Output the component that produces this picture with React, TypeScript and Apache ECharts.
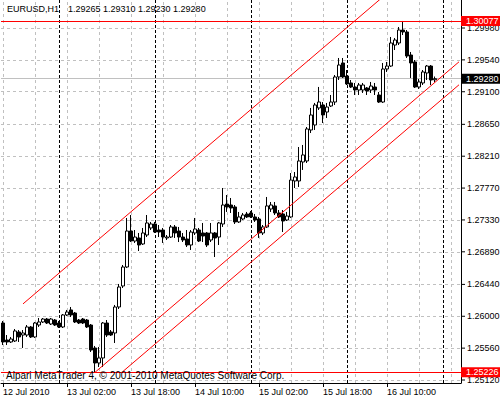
import React, { useEffect, useRef } from "react";
import * as echarts from "echarts";

const symbol = "EURUSD";
const timeframe = "H1";
const startTimeUTC = Date.UTC(2010, 6, 12, 10, 0);
const slotCount = 115;

const open = [
  1.25907, 1.25672, 1.25645, 1.25659, 1.25783, 1.25741, 1.25741, 1.25852, 1.25714, 1.25879,
  1.25921, 1.25962, 1.25893, 1.25948, 1.25907, 1.25852, 1.26018, 1.26087, 1.26045, 1.25948,
  1.25962, 1.25948, 1.25879, 1.25562, 1.25355, 1.25424, 1.25907, 1.25783, 1.25769, 1.26128,
  1.26418, 1.2668, 1.27177, 1.27039, 1.27081, 1.26998, 1.27122, 1.27219, 1.27274, 1.27191,
  1.27191, 1.27081, 1.27094, 1.27233, 1.27177, 1.27094, 1.27067, 1.26984, 1.2715, 1.27191,
  1.2715, 1.2715, 1.27053, 1.2715, 1.27094, 1.27274, 1.2755, 1.27536, 1.27509, 1.27302,
  1.27343, 1.27412, 1.27426, 1.27371, 1.27343, 1.2715, 1.27233, 1.27481, 1.27523, 1.27426,
  1.27412, 1.27329, 1.27371, 1.27868, 1.27868, 1.2813, 1.28144, 1.28572, 1.28641, 1.28876,
  1.28917, 1.2882, 1.28903, 1.28958, 1.29304, 1.29497, 1.29317, 1.29221, 1.29165, 1.29124,
  1.29124, 1.29152, 1.29124, 1.29165, 1.29055, 1.28958, 1.29414, 1.29455, 1.29745, 1.29773,
  1.29952, 1.29925, 1.29607, 1.29511, 1.29165, 1.29221, 1.29359, 1.29455, 1.29265,
];
const high = [
  1.25935, 1.25741, 1.25714, 1.25824, 1.2581, 1.2581, 1.25879, 1.25866, 1.25921, 1.25976,
  1.25976, 1.25976, 1.25976, 1.25962, 1.25935, 1.26031, 1.26087, 1.26128, 1.26059, 1.25962,
  1.25976, 1.25962, 1.25893, 1.2559, 1.25576, 1.25921, 1.25948, 1.2581, 1.26156, 1.26446,
  1.26708, 1.27357, 1.27398, 1.27191, 1.2715, 1.27219, 1.27398, 1.27302, 1.27302, 1.2726,
  1.27219, 1.27122, 1.2726, 1.2726, 1.27233, 1.2715, 1.27191, 1.27191, 1.27357, 1.27219,
  1.27288, 1.27163, 1.27288, 1.27163, 1.27302, 1.27771, 1.27674, 1.27633, 1.27536, 1.2744,
  1.27426, 1.2744, 1.27453, 1.27412, 1.27371, 1.2726, 1.27647, 1.27578, 1.27578, 1.27467,
  1.27467, 1.2744, 1.27978, 1.27992, 1.28337, 1.28365, 1.28613, 1.28876, 1.28945, 1.29166,
  1.28958, 1.28945, 1.29055, 1.29331, 1.29566, 1.29566, 1.294, 1.29262, 1.29221, 1.29221,
  1.29221, 1.29165, 1.29235, 1.29221, 1.29096, 1.29497, 1.29511, 1.29856, 1.29842, 1.29994,
  1.30077, 1.29952, 1.29649, 1.29538, 1.29276, 1.294, 1.29469, 1.29469, 1.2931,
];
const low = [
  1.25603, 1.25603, 1.25631, 1.25645, 1.25645, 1.25562, 1.25714, 1.257, 1.257, 1.25852,
  1.25907, 1.25893, 1.25879, 1.25866, 1.25838, 1.25838, 1.26004, 1.2599, 1.25907, 1.25893,
  1.25893, 1.25838, 1.25507, 1.25226, 1.253, 1.253, 1.25714, 1.25728, 1.25631, 1.261,
  1.2639, 1.26666, 1.27025, 1.27012, 1.26901, 1.26984, 1.27094, 1.27191, 1.2715, 1.27094,
  1.27012, 1.27053, 1.27081, 1.27081, 1.27025, 1.27025, 1.26956, 1.26915, 1.27122, 1.27025,
  1.27025, 1.26956, 1.27025, 1.26818, 1.26984, 1.27233, 1.2744, 1.27426, 1.27274, 1.27288,
  1.27329, 1.27357, 1.27357, 1.27302, 1.27081, 1.27122, 1.27219, 1.2744, 1.27398, 1.27357,
  1.27163, 1.27315, 1.27357, 1.27771, 1.27785, 1.2802, 1.28116, 1.2853, 1.28572, 1.28848,
  1.28668, 1.28737, 1.28889, 1.28917, 1.29262, 1.2929, 1.29193, 1.29152, 1.29055, 1.29055,
  1.29083, 1.29055, 1.29083, 1.29055, 1.28945, 1.28945, 1.29373, 1.29442, 1.29676, 1.29745,
  1.29883, 1.29566, 1.2929, 1.29152, 1.29138, 1.29193, 1.29262, 1.29193, 1.2923,
];
const close = [
  1.25645, 1.25645, 1.25686, 1.25797, 1.25714, 1.25769, 1.25852, 1.25714, 1.25907, 1.25921,
  1.25962, 1.25907, 1.25962, 1.25879, 1.25852, 1.26018, 1.26059, 1.26018, 1.25921, 1.25907,
  1.25907, 1.25852, 1.25534, 1.25355, 1.25424, 1.25907, 1.25741, 1.25741, 1.26128, 1.26404,
  1.2668, 1.27177, 1.27039, 1.27094, 1.26984, 1.2715, 1.27288, 1.27274, 1.27163, 1.27163,
  1.27094, 1.27094, 1.27233, 1.2715, 1.27094, 1.27053, 1.26984, 1.27163, 1.27205, 1.27039,
  1.27108, 1.26984, 1.2715, 1.27081, 1.27288, 1.27536, 1.27509, 1.27495, 1.27302, 1.27371,
  1.27398, 1.27371, 1.27371, 1.27329, 1.2715, 1.27233, 1.27523, 1.27536, 1.27426, 1.27371,
  1.27315, 1.27384, 1.27881, 1.27923, 1.28144, 1.28227, 1.28586, 1.28779, 1.28917, 1.28958,
  1.28779, 1.28889, 1.28958, 1.29304, 1.29469, 1.29304, 1.29207, 1.29165, 1.29124, 1.29193,
  1.29193, 1.2911, 1.29179, 1.29124, 1.28958, 1.29414, 1.29455, 1.29773, 1.29814, 1.29952,
  1.29925, 1.29593, 1.29497, 1.29165, 1.29235, 1.29373, 1.29455, 1.29262, 1.2928,
];

const xTickIndex = [0, 16, 32, 48, 64, 80, 96];
const xTickLabels = [
  "12 Jul 2010",
  "13 Jul 02:00",
  "13 Jul 18:00",
  "14 Jul 10:00",
  "15 Jul 02:00",
  "15 Jul 18:00",
  "16 Jul 10:00",
];
const daySeparatorIndex = [14, 38, 62, 86, 110];
const yTickValues = [
  1.2998, 1.2954, 1.291, 1.2865, 1.2821, 1.2777, 1.2733, 1.2689, 1.2644, 1.26, 1.2556, 1.2512,
];
// channel anchor points: [bar index, price]
const channelTop = [[5, 1.26171], [114, 1.31306]];
const channelMid = [[23, 1.25226], [114, 1.29513]];
const channelLow = [[30, 1.25239], [114, 1.29196]];

const copyright = "Alpari MetaTrader 4, \u00A9 2001-2010 MetaQuotes Software Corp.";

const FONT = '"Liberation Sans", Arial, sans-serif';

export default function App() {
  const ref = useRef<HTMLDivElement>(null);
  useEffect(() => {
    const chart = echarts.init(ref.current!, null, { renderer: "svg" });
    const pad = (n: number) => String(n).padStart(2, "0");
    const categories = Array.from({ length: slotCount }, (_, i) => {
      const d = new Date(startTimeUTC + i * 3600000);
      return `${d.getUTCFullYear()}.${pad(d.getUTCMonth() + 1)}.${pad(d.getUTCDate())} ${pad(
        d.getUTCHours()
      )}:00`;
    });
    const gridX = Array.from({ length: 15 }, (_, k) => k * 8);
    const last = open.length - 1;
    const maxHigh = Math.max(...high);
    const minLow = Math.min(...low);
    const lastClose = close[last];

    const grayDash = () => ({ color: "#c0c0c0", type: [3, 3] as any, width: 1 });
    const candles = open.map((o, i) => [o, close[i], low[i], high[i]]);

    const priceBox = (text: string, bg: string) => ({
      show: true,
      position: "end",
      distance: 0,
      formatter: text,
      backgroundColor: bg,
      color: "#ffffff",
      fontSize: 9,
      fontFamily: FONT,
      lineHeight: 10,
      padding: [0, 4, 0, 5],
    });

    const chLine = (d: number[][]) => ({
      type: "line",
      data: d,
      showSymbol: false,
      silent: true,
      z: 4,
      clip: true,
      lineStyle: { color: "#ff0000", width: 1 },
    });

    const option: any = {
      animation: false,
      backgroundColor: "#ffffff",
      grid: { left: 1, right: 39, top: 0, bottom: 17, containLabel: false },
      xAxis: {
        type: "category",
        data: categories,
        boundaryGap: true,
        axisLine: { show: true, onZero: false, lineStyle: { color: "#000", width: 1 } },
        axisTick: {
          show: true,
          alignWithLabel: true,
          length: 4,
          interval: (i: number) => xTickIndex.includes(i),
          lineStyle: { color: "#000" },
        },
        axisLabel: {
          interval: (i: number) => xTickIndex.includes(i),
          formatter: (_v: string, i: number) => xTickLabels[xTickIndex.indexOf(i)] ?? "",
          align: "left",
          margin: 4,
          color: "#000",
          fontSize: 9,
          fontFamily: FONT,
        },
        splitLine: { show: false },
      },
      yAxis: {
        type: "value",
        position: "right",
        min: 1.250786,
        max: 1.303666,
        axisLine: { show: true, onZero: false, lineStyle: { color: "#000", width: 1 } },
        axisTick: { show: false },
        axisLabel: { show: false },
        splitLine: { show: false },
      },
      graphic: [
        {
          type: "text",
          x: 7,
          y: 9,
          z: 100,
          style: {
            text: `${symbol},${timeframe}`,
            fontSize: 9,
            fontFamily: FONT,
            fill: "#000",
            verticalAlign: "middle",
          },
        },
        {
          type: "text",
          x: 68,
          y: 9,
          z: 100,
          style: {
            text: [open[last], high[last], low[last], close[last]].map((v) => v.toFixed(5)).join(" "),
            fontSize: 9,
            fontFamily: FONT,
            fill: "#000",
            verticalAlign: "middle",
          },
        },
        {
          type: "text",
          x: 6,
          y: 375,
          z: 100,
          style: {
            text: copyright,
            fontSize: 10,
            fontFamily: FONT,
            fill: "#000",
            verticalAlign: "middle",
          },
        },
      ],
      series: [
        {
          type: "line",
          data: [],
          z: 1,
          silent: true,
          markLine: {
            silent: true,
            z: 1,
            precision: 6,
            symbol: ["none", "none"],
            animation: false,
            data: [
              ...gridX.map((i) => ({ xAxis: i, lineStyle: grayDash(), label: { show: false } })),
              ...yTickValues.map((v) => ({
                yAxis: v,
                lineStyle: grayDash(),
                label: {
                  show: true,
                  position: "end",
                  distance: 0,
                  formatter: `{tk|}{v|${v.toFixed(5)}}`,
                  rich: {
                    tk: { width: 4, height: 1, backgroundColor: "#000" },
                    v: { padding: [0, 0, 0, 2], fontSize: 9, fontFamily: FONT, color: "#000" },
                  },
                },
              })),
              ...daySeparatorIndex.map((i) => ({
                xAxis: i,
                lineStyle: { color: "#000", type: [3, 2], width: 1 },
                label: { show: false },
              })),
            ],
          },
        },
        {
          type: "line",
          data: [],
          z: 2,
          silent: true,
          markLine: {
            silent: true,
            z: 2,
            precision: 6,
            symbol: ["none", "none"],
            data: [
              {
                yAxis: lastClose,
                lineStyle: { color: "#c0c0c0", type: "solid", width: 1 },
                label: priceBox(lastClose.toFixed(5), "#000000"),
              },
            ],
          },
        },
        {
          type: "candlestick",
          data: candles,
          barWidth: 3,
          z: 3,
          silent: true,
          itemStyle: {
            color: "#ffffff",
            color0: "#000000",
            borderColor: "#000000",
            borderColor0: "#000000",
            borderWidth: 1,
          },
        },
        chLine(channelTop),
        chLine(channelMid),
        chLine(channelLow),
        {
          type: "line",
          data: [],
          z: 5,
          silent: true,
          markLine: {
            silent: true,
            z: 5,
            precision: 6,
            symbol: ["none", "none"],
            data: [
              {
                yAxis: maxHigh,
                lineStyle: { color: "#ff0000", type: "solid", width: 1 },
                label: priceBox(maxHigh.toFixed(5), "#ff0000"),
              },
              {
                yAxis: minLow,
                lineStyle: { color: "#ff0000", type: "solid", width: 1 },
                label: priceBox(minLow.toFixed(5), "#ff0000"),
              },
            ],
          },
        },
      ],
    };
    chart.setOption(option);
    return () => chart.dispose();
  }, []);
  return (
    <div
      ref={ref}
      style={{ position: "fixed", left: 0, top: 0, width: 500, height: 400, background: "#fff" }}
    />
  );
}
